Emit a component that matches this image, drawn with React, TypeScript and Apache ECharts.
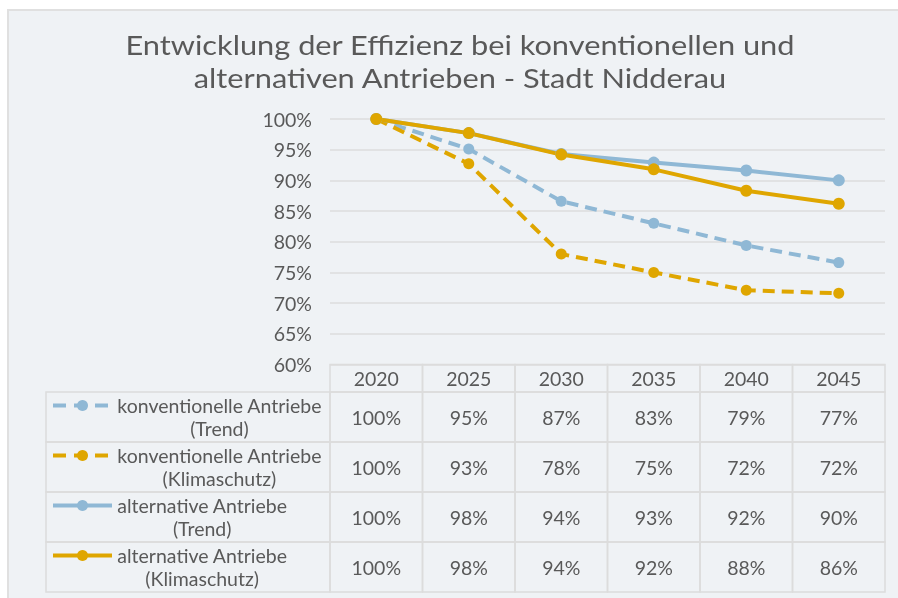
import React, { useEffect, useRef } from 'react';
import * as echarts from 'echarts';

// ---------- data ----------
const titleLines = ['Entwicklung der Effizienz bei konventionellen und', 'alternativen Antrieben - Stadt Nidderau'];
const years = ['2020', '2025', '2030', '2035', '2040', '2045'];
const yMin = 0.6;
const yMax = 1.0;
const yStep = 0.05;

const convTrend = [1.0, 0.951, 0.866, 0.830, 0.794, 0.766];
const convKlima = [1.0, 0.927, 0.780, 0.750, 0.721, 0.716];
const altTrend = [1.0, 0.977, 0.943, 0.929, 0.916, 0.900];
const altKlima = [1.0, 0.977, 0.942, 0.918, 0.883, 0.862];

const convTrendLabel = ['konventionelle Antriebe', '(Trend)'];
const convKlimaLabel = ['konventionelle Antriebe', '(Klimaschutz)'];
const altTrendLabel = ['alternative Antriebe', '(Trend)'];
const altKlimaLabel = ['alternative Antriebe', '(Klimaschutz)'];

// ---------- styles / layout ----------
const BLUE = '#8fb8d5';
const GOLD = '#dfa600';
const TEXT = '#595959';
const GRID = '#dcdcdc';
const FONT = 'Lato';
const LABEL_SIZE = 19.5;

const W = 898;
const H = 598;
const PLOT_LEFT = 330;
const PLOT_RIGHT = 885;
const PLOT_TOP = 119;
const PLOT_BOTTOM = 364.5;
const HEADER_H = 27.5;
const ROW_H = 50;
const TABLE_LEFT = 46;

const seriesDefs = [
  { key: 'ct', label: convTrendLabel, data: convTrend, color: BLUE, dashed: true },
  { key: 'ck', label: convKlimaLabel, data: convKlima, color: GOLD, dashed: true },
  { key: 'at', label: altTrendLabel, data: altTrend, color: BLUE, dashed: false },
  { key: 'ak', label: altKlimaLabel, data: altKlima, color: GOLD, dashed: false },
];

function measure(text: string, size: number): number {
  const c = document.createElement('canvas');
  const ctx = c.getContext('2d');
  if (!ctx) return text.length * size * 0.5;
  ctx.font = `${size}px ${FONT}`;
  return ctx.measureText(text).width;
}

export default function App() {
  const ref = useRef<HTMLDivElement>(null);

  useEffect(() => {
    if (!ref.current) return;
    const chart = echarts.init(ref.current, undefined, { renderer: 'svg', width: W, height: H });

    const colW = (PLOT_RIGHT - PLOT_LEFT) / years.length;
    const graphics: any[] = [];

    // panel
    graphics.push({
      type: 'rect',
      z: -10,
      shape: { x: 8, y: 10, width: W, height: H },
      style: { fill: '#eff2f5', stroke: '#e0e0e0', lineWidth: 2 },
    });

    // title (slightly widened like the original)
    titleLines.forEach((t, i) => {
      graphics.push({
        type: 'text',
        x: 460,
        y: 44 + i * 33,
        scaleX: 1.14,
        style: {
          text: t,
          fill: TEXT,
          font: `27px ${FONT}`,
          align: 'center',
          verticalAlign: 'middle',
        },
      });
    });

    // table borders
    const border = { fill: 'none', stroke: GRID, lineWidth: 1.5 };
    years.forEach((_, i) => {
      graphics.push({
        type: 'rect',
        shape: { x: PLOT_LEFT + i * colW, y: PLOT_BOTTOM, width: colW, height: HEADER_H },
        style: border,
      });
    });
    seriesDefs.forEach((s, r) => {
      const top = PLOT_BOTTOM + HEADER_H + r * ROW_H;
      graphics.push({
        type: 'rect',
        shape: { x: TABLE_LEFT, y: top, width: PLOT_LEFT - TABLE_LEFT, height: ROW_H },
        style: border,
      });
      years.forEach((_, i) => {
        graphics.push({
          type: 'rect',
          shape: { x: PLOT_LEFT + i * colW, y: top, width: colW, height: ROW_H },
          style: border,
        });
      });
      // legend key
      const ly = top + 13.5;
      graphics.push({
        type: 'line',
        shape: { x1: 53, y1: ly, x2: 112, y2: ly },
        style: { stroke: s.color, lineWidth: 4, lineDash: s.dashed ? [13, 8] : null },
      });
      graphics.push({
        type: 'circle',
        shape: { cx: 82.5, cy: ly, r: 5.5 },
        style: { fill: s.color },
      });
      const w1 = measure(s.label[0], LABEL_SIZE);
      graphics.push({
        type: 'text',
        x: 117 + w1 / 2,
        y: top + 25,
        style: {
          text: s.label.join('\n'),
          fill: TEXT,
          font: `${LABEL_SIZE}px ${FONT}`,
          align: 'center',
          verticalAlign: 'middle',
          lineHeight: 22.5,
        },
      });
    });

    const rowAxes = seriesDefs.map((s, r) => ({
      type: 'category',
      data: years,
      position: 'bottom',
      gridIndex: 0,
      axisLine: { show: false },
      axisTick: { show: false },
      splitLine: { show: false },
      axisLabel: {
        interval: 0,
        margin: HEADER_H + r * ROW_H + ROW_H / 2,
        verticalAlign: 'middle',
        color: TEXT,
        fontFamily: FONT,
        fontSize: LABEL_SIZE,
        formatter: (_v: string, idx: number) => `${Math.round(s.data[idx] * 100)}%`,
      },
    }));

    const option: any = {
      animation: false,
      grid: {
        left: PLOT_LEFT,
        right: W - PLOT_RIGHT,
        top: PLOT_TOP,
        height: PLOT_BOTTOM - PLOT_TOP,
        containLabel: false,
      },
      xAxis: [
        {
          type: 'category',
          data: years,
          position: 'bottom',
          boundaryGap: true,
          axisLine: { show: false },
          axisTick: { show: false },
          splitLine: { show: false },
          axisLabel: {
            interval: 0,
            margin: HEADER_H / 2,
            verticalAlign: 'middle',
            color: TEXT,
            fontFamily: FONT,
            fontSize: LABEL_SIZE,
          },
        },
        ...rowAxes,
      ],
      yAxis: {
        type: 'value',
        min: yMin,
        max: yMax,
        interval: yStep,
        axisLine: { show: false },
        axisTick: { show: false },
        splitLine: { show: true, lineStyle: { color: GRID, width: 1.5 } },
        axisLabel: {
          margin: 18,
          color: TEXT,
          fontFamily: FONT,
          fontSize: LABEL_SIZE,
          formatter: (v: number) => `${Math.round(v * 100)}%`,
        },
      },
      graphic: graphics,
      series: seriesDefs.map((s) => ({
        name: s.label.join(' '),
        type: 'line',
        data: s.data,
        xAxisIndex: 0,
        symbol: 'circle',
        symbolSize: s.dashed ? 11 : 12,
        showSymbol: true,
        itemStyle: { color: s.color },
        lineStyle: { color: s.color, width: 4, type: s.dashed ? [12, 7] : 'solid' },
      })),
    };

    chart.setOption(option);
    return () => chart.dispose();
  }, []);

  return <div ref={ref} style={{ position: 'fixed', left: 0, top: 0, width: W, height: H }} />;
}
